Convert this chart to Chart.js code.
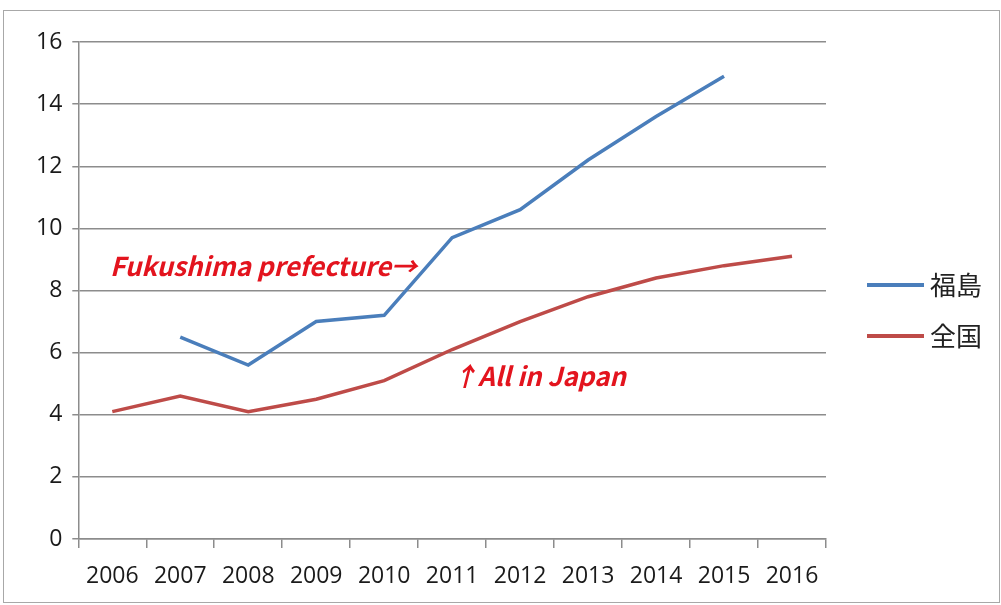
<!DOCTYPE html>
<html>
<head>
<meta charset="utf-8">
<script src="https://cdn.jsdelivr.net/npm/chart.js@4.4.1/dist/chart.umd.min.js"></script>
<style>
  html, body { margin: 0; padding: 0; background: #fff; }
  #frame { position: absolute; left: 3px; top: 10px; width: 995px; height: 591px; border: 1px solid #a8a8a8; }
  #wrap { position: absolute; left: 0; top: 0; width: 1001px; height: 605px; }
</style>
</head>
<body>
<div id="frame"></div>
<div id="wrap"><canvas id="grafico" width="1001" height="605"></canvas></div>
<script>
// datos
var years = ['2006', '2007', '2008', '2009', '2010', '2011', '2012', '2013', '2014', '2015', '2016'];
var fukushima = [null, 6.5, 5.6, 7.0, 7.2, 9.7, 10.6, 12.2, 13.6, 14.9, null];
var zenkoku = [4.1, 4.6, 4.1, 4.5, 5.1, 6.1, 7.0, 7.8, 8.4, 8.8, 9.1];
var seriesNames = ['福島', '全国'];

var tickFont = { family: "'Open Sans', 'Liberation Sans', sans-serif", size: 23, lineHeight: 1 };

// textos rojos dentro del gráfico
var notas = {
    id: 'notas',
    afterDatasetsDraw: function(chart) {
        var c = chart.ctx;
        c.save();
        c.fillStyle = '#e3141e';
        c.font = "italic bold 26px 'Noto Sans CJK JP', 'Noto Sans', sans-serif";
        c.textBaseline = 'middle';
        c.textAlign = 'left';
        c.fillText('Fukushima prefecture\u2192', 110, 266);
        c.fillText('\u2191All in Japan', 452, 376);
        c.restore();
    }
};

// leyenda a la derecha, dibujada a partir de los datasets
var leyenda = {
    id: 'leyenda',
    afterDraw: function(chart) {
        var c = chart.ctx;
        var x0 = chart.chartArea.right + 41;
        var y0 = 285;
        c.save();
        c.font = "26px 'Noto Sans CJK JP', sans-serif";
        c.textBaseline = 'middle';
        c.textAlign = 'left';
        chart.data.datasets.forEach(function(ds, i) {
            var y = y0 + i * 51;
            c.strokeStyle = ds.borderColor;
            c.lineWidth = 4;
            c.beginPath();
            c.moveTo(x0, y);
            c.lineTo(x0 + 57, y);
            c.stroke();
            c.fillStyle = '#222';
            c.fillText(ds.label, x0 + 63, y);
        });
        c.restore();
    }
};

var ctx = document.getElementById('grafico').getContext('2d');
var chart = new Chart(ctx, {
    type: 'line',
    data: {
        labels: years,
        datasets: [{
            label: seriesNames[0],
            data: fukushima,
            borderColor: '#4a7ebb',
            backgroundColor: '#4a7ebb',
            borderWidth: 3.5,
            pointRadius: 0,
            tension: 0
        }, {
            label: seriesNames[1],
            data: zenkoku,
            borderColor: '#be4b48',
            backgroundColor: '#be4b48',
            borderWidth: 3.5,
            pointRadius: 0,
            tension: 0
        }]
    },
    options: {
        responsive: false,
        animation: false,
        layout: { padding: { top: 42, left: 26, right: 175, bottom: 0 } },
        plugins: {
            legend: { display: false },
            tooltip: { enabled: false }
        },
        scales: {
            x: {
                offset: true,
                grid: { offset: true, drawOnChartArea: false, drawTicks: true, tickLength: 9, color: '#8c8c8c', lineWidth: 1.5 },
                border: { color: '#8c8c8c', width: 1.5 },
                ticks: { color: '#1a1a1a', font: tickFont, padding: 17, maxRotation: 0, autoSkip: false }
            },
            y: {
                min: 0,
                max: 16,
                ticks: { stepSize: 2, color: '#1a1a1a', font: tickFont, padding: 10 },
                grid: { color: '#8c8c8c', lineWidth: 1.5, tickLength: 6 },
                border: { color: '#8c8c8c', width: 1.5 }
            }
        }
    },
    plugins: [notas, leyenda]
});
</script>
</body>
</html>
